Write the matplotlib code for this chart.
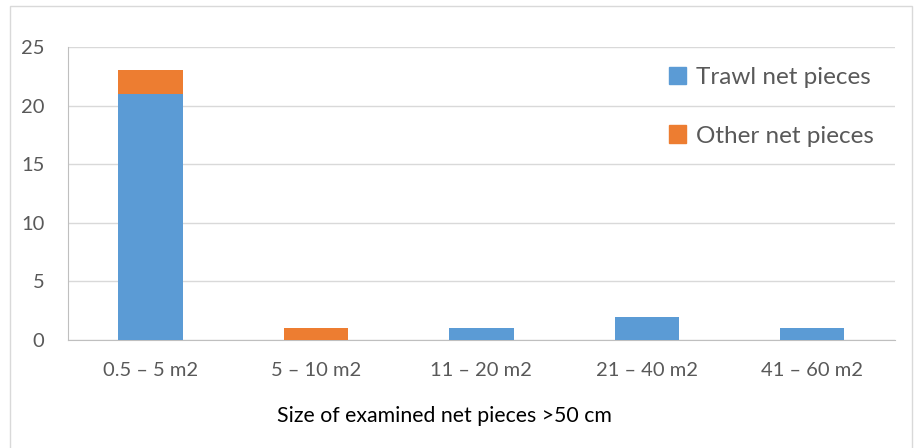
import matplotlib.pyplot as plt
from matplotlib.patches import Rectangle, Patch
import numpy as np

# Data
categories = ['0.5 – 5 m2', '5 – 10 m2', '11 – 20 m2', '21 – 40 m2', '41 – 60 m2']
trawl = [21, 0, 1, 2, 1]
other = [2, 1, 0, 0, 0]

plt.rcParams['font.family'] = ['Lato', 'DejaVu Sans']

fig = plt.figure(figsize=(9.14, 4.48), dpi=100)
ax = fig.add_axes([0.0744, 0.241, 0.9046, 0.654])

# Outer chart border
fig.patches.append(Rectangle((0.011, -0.1), 0.987, 1.0866, transform=fig.transFigure,
                             fill=False, edgecolor='#d9d9d9', linewidth=1))

x = np.arange(len(categories))
blue = '#5b9bd5'
orange = '#ed7d31'
ax.bar(x, trawl, width=0.39, color=blue, label='Trawl net pieces', zorder=3)
ax.bar(x, other, width=0.39, bottom=trawl, color=orange, label='Other net pieces', zorder=3)

ax.set_xlim(-0.5, len(categories) - 0.5)
ax.set_ylim(0, 25)
ax.set_yticks(range(0, 26, 5))
ax.set_xticks(x)
ax.set_xticklabels(categories)
ax.yaxis.grid(True, color='#d9d9d9', linewidth=1, zorder=0)
ax.tick_params(axis='both', length=0, labelsize=14.5, colors='#595959')
ax.tick_params(axis='x', pad=16)
ax.tick_params(axis='y', pad=17)

for s in ['top', 'right']:
    ax.spines[s].set_visible(False)
ax.spines['left'].set_color('#bfbfbf')
ax.spines['bottom'].set_color('#bfbfbf')

# the axis title sits a little left of the plot centre in the original
ax.set_xlabel('Size of examined net pieces >50 cm', fontsize=15.3, color='black',
              labelpad=19, x=0.455)

handles = [Patch(color=blue), Patch(color=orange)]
ax.legend(handles, ['Trawl net pieces', 'Other net pieces'], loc='upper left',
          bbox_to_anchor=(0.719, 0.878), bbox_transform=fig.transFigure,
          frameon=False, fontsize=17.5, labelcolor='#595959',
          handlelength=0.7, handleheight=0.7, handletextpad=0.4,
          labelspacing=1.55, borderpad=0)

fig.savefig('out.png', dpi=100)
